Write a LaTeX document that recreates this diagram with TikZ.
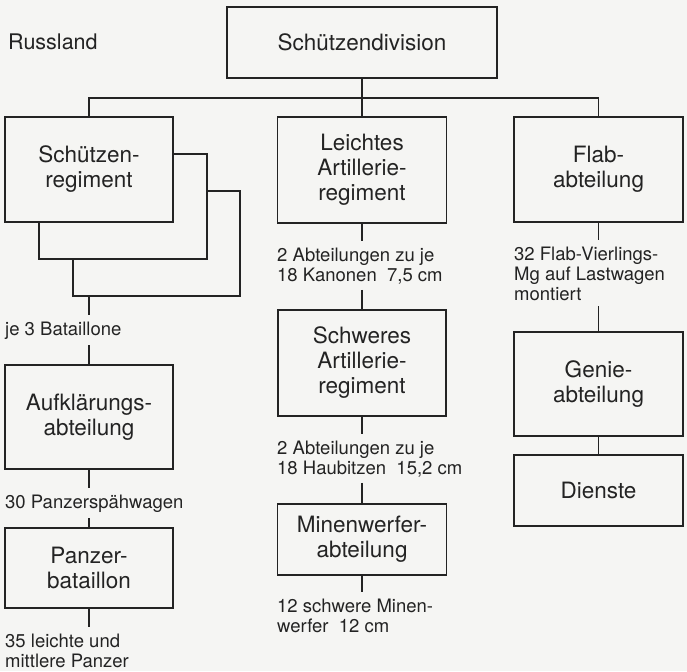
\documentclass[tikz,border=0pt]{standalone}
\usepackage{fontspec}
\setmainfont{TeX Gyre Heros}
\definecolor{paper}{RGB}{245,245,243}
\definecolor{ink}{RGB}{35,35,35}

\begin{document}
\begin{tikzpicture}[x=1pt,y=-1pt,
    box/.style={draw=ink, line width=1.2pt, fill=paper, text=ink, align=center,
        inner sep=0pt, font=\fontsize{22.5}{25}\selectfont},
    info/.style={anchor=base west, text=ink, align=left, inner xsep=0pt,
        inner ysep=6pt, font=\fontsize{18.5}{20}\selectfont},
    stem/.style={draw=ink, line width=1.2pt}]
    \fill[paper] (0,0) rectangle (687,671);
    \useasboundingbox (0,0) rectangle (687,671);

    \node[text=ink, anchor=west, inner sep=0pt, font=\fontsize{21.5}{25}\selectfont] (land) at (8,42) {Russland};
    \node[box, minimum width=270, minimum height=71] (div) at (362,42.5) {Schützendivision};
    \coordinate (bus) at (0,98);

    % left column
    \node[box, minimum width=167, minimum height=105] (sreg3) at (156.5,243.5) {};
    \node[box, minimum width=168, minimum height=105] (sreg2) at (123,206.5) {};
    \node[box, minimum width=168, minimum height=105] (sreg) at (89,169.5) {Schützen-\\regiment};
    \node[info] (bat) at (5,335) {je 3 Bataillone};
    \node[box, minimum width=168, minimum height=104] (aufkl) at (89,417) {Aufklärungs-\\abteilung};
    \node[info] (spaeh) at (5,508) {30 Panzerspähwagen};
    \node[box, minimum width=168, minimum height=80] (panz) at (89,568) {Panzer-\\bataillon};
    \node[info] (pz) at (5,667) {35 leichte und\\mittlere Panzer};

    % middle column
    \node[box, minimum width=169, minimum height=106] (leicht) at (362,170) {Leichtes\\Artillerie-\\regiment};
    \node[info] (kan) at (277,281) {2 Abteilungen zu je\\18 Kanonen\ \ 7,5 cm};
    \node[box, minimum width=168, minimum height=106] (schwer) at (362,363) {Schweres\\Artillerie-\\regiment};
    \node[info] (haub) at (277,474) {2 Abteilungen zu je\\18 Haubitzen\ \ 15,2 cm};
    \node[box, minimum width=169, minimum height=71] (minen) at (362,539.5) {Minenwerfer-\\abteilung};
    \node[info] (mw) at (277,632) {12 schwere Minen-\\werfer\ \ 12 cm};

    % right column
    \node[box, minimum width=169, minimum height=105] (flab) at (598.5,169.5) {Flab-\\abteilung};
    \node[info] (vierl) at (514,300) {32 Flab-Vierlings-\\Mg auf Lastwagen\\montiert};
    \node[box, minimum width=169, minimum height=104] (genie) at (598.5,384) {Genie-\\abteilung};
    \node[box, minimum width=169, minimum height=71] (dienste) at (598.5,490.5) {Dienste};

    \draw[stem] (div.south) -- (div.south |- bus);
    \draw[stem] (sreg.north) |- (bus -| flab.north) -- (flab.north);
    \draw[stem] (leicht.north) -- (leicht.north |- bus);

    \draw[stem] (sreg3.south -| sreg.south) -- (sreg.south |- bat.north);
    \draw[stem] (bat.south -| aufkl.north) -- (aufkl.north);
    \draw[stem] (aufkl.south) -- (aufkl.south |- spaeh.north);
    \draw[stem] (spaeh.south -| panz.north) -- (panz.north);
    \draw[stem] (panz.south) -- (panz.south |- pz.north);

    \draw[stem] (leicht.south) -- (leicht.south |- kan.north);
    \draw[stem] (kan.south -| schwer.north) -- (schwer.north);
    \draw[stem] (schwer.south) -- (schwer.south |- haub.north);
    \draw[stem] (haub.south -| minen.north) -- (minen.north);
    \draw[stem] (minen.south) -- (minen.south |- mw.north);

    \draw[stem] (flab.south) -- (flab.south |- vierl.north);
    \draw[stem] (vierl.south -| genie.north) -- (genie.north);
    \draw[stem] (genie.south) -- (dienste.north);
\end{tikzpicture}
\end{document}
